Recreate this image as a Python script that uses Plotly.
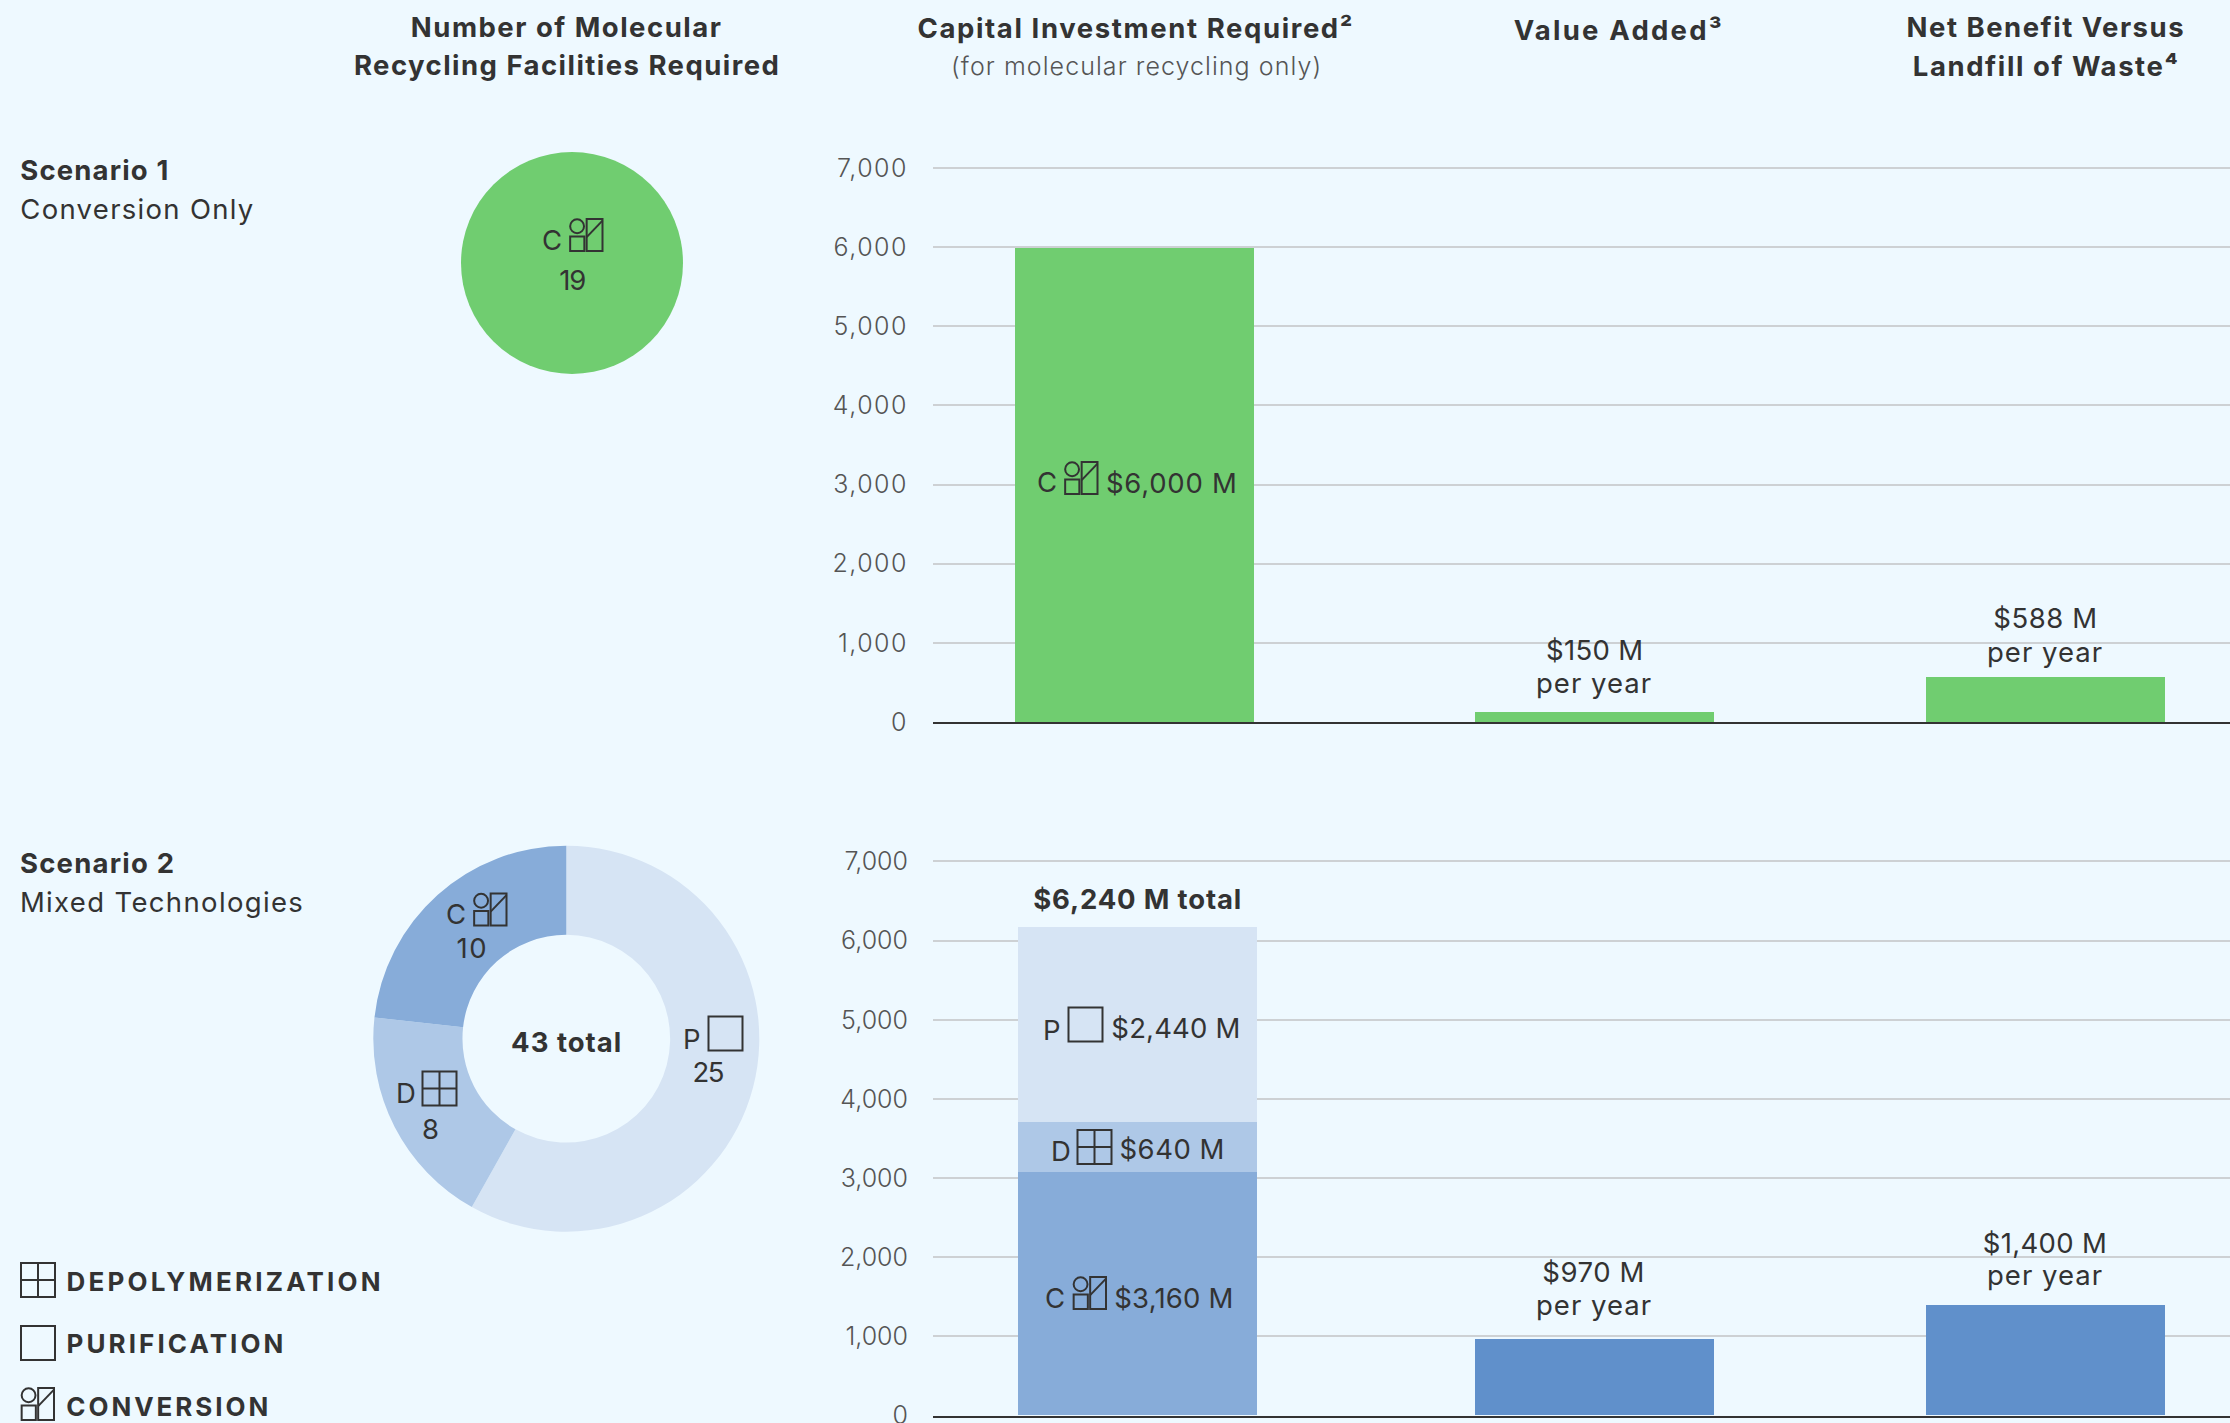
import json
import plotly.graph_objects as go

# ---------- data ----------
METRICS = ["Capital Investment Required", "Value Added", "Net Benefit Versus Landfill of Waste"]
TICKS = [0, 1000, 2000, 3000, 4000, 5000, 6000, 7000]

# Bar heights as drawn in the picture, read against the gridlines.
S1_VALUES = [6000, 130, 575]
S2_CONVERSION = [3080]
S2_DEPOLY = [623]
S2_PURIFICATION = [2467]
S2_OTHER = [970, 1390]

FAC_S1_LABELS = ["Conversion"]
FAC_S1 = [19]
FAC_S2_LABELS = ["Purification", "Depolymerization", "Conversion"]
FAC_S2 = [25, 8, 10]

# ---------- style ----------
W, H = 2230, 1423
BG = "#eef9ff"
INK = "#333333"
GREEN = "#70cd70"
LIGHT = "#d6e4f4"
MID = "#aec8e7"
DARK = "#87acd9"
SOLID = "#6090cb"
GRID = "#cdd1d4"
FONT = "Inter"
SIZE = 27.5
BOLD = 27.5


def px(x):
    return x / W


def py(y):
    return 1 - y / H


fig = go.Figure()

# axis geometry
X_L = 933
CAT0, STEP = 1139.0, 455.5
BAR_W = 239 / STEP
xrange_ = [(X_L - CAT0) / STEP, (W - CAT0) / STEP]


def offsets(centers):
    return [-BAR_W / 2 + (c - (CAT0 + i * STEP)) / STEP for i, c in centers]


S1_CENTERS = [(0, 1134), (1, 1594.5), (2, 2045.5)]
S2_CENTERS = [(0, 1137.5), (1, 1594.5), (2, 2045.5)]

fig.add_trace(go.Bar(x=METRICS, y=S1_VALUES, width=BAR_W, offset=offsets(S1_CENTERS),
                     marker=dict(color=GREEN, line_width=0), xaxis="x", yaxis="y"))
for vals, col in [(S2_CONVERSION, DARK), (S2_DEPOLY, MID), (S2_PURIFICATION, LIGHT)]:
    fig.add_trace(go.Bar(x=METRICS[:1], y=vals, width=BAR_W, offset=offsets(S2_CENTERS[:1]),
                         marker=dict(color=col, line_width=0), xaxis="x2", yaxis="y2"))
fig.add_trace(go.Bar(x=METRICS[1:], y=S2_OTHER, width=BAR_W, offset=offsets(S2_CENTERS[1:]),
                     marker=dict(color=SOLID, line_width=0), xaxis="x2", yaxis="y2"))

fig.add_trace(go.Pie(labels=FAC_S1_LABELS, values=FAC_S1, sort=False, direction="clockwise",
                     marker=dict(colors=[GREEN], line_width=0), textinfo="none",
                     domain=dict(x=[px(461), px(683)], y=[py(374), py(152)])))
fig.add_trace(go.Pie(labels=FAC_S2_LABELS, values=FAC_S2, sort=False, direction="clockwise",
                     hole=0.538, marker=dict(colors=[LIGHT, MID, DARK], line_width=0),
                     textinfo="none",
                     domain=dict(x=[px(373.3), px(759.3)], y=[py(1231.7), py(845.7)])))

RANGE_TOP = 7030  # a little headroom so the 7,000 gridline is kept


def yaxis(bottom, top, anchor):
    unit = (bottom - top) / 7000
    return dict(domain=[py(bottom), py(bottom - RANGE_TOP * unit)], range=[0, RANGE_TOP],
                tickvals=TICKS, tickformat=",d", ticklabeloverflow="allow",
                showgrid=True, gridcolor=GRID, gridwidth=2, zeroline=False, showline=False,
                ticks="", ticklabelstandoff=24, anchor=anchor,
                tickfont=dict(family=FONT, size=25, color="#555555", weight=300))


def xaxis(anchor):
    return dict(domain=[px(X_L), 1], type="category", categoryorder="array", categoryarray=METRICS,
                range=xrange_, showticklabels=False, ticks="", showgrid=False, zeroline=False,
                showline=True, linecolor=INK, linewidth=2, anchor=anchor)


# ---------- text ----------
annotations = []
WIDTHS = {}


def text(s, x, y, size=SIZE, weight=400, color=INK, w=None, left=False):
    # left=True: x is the text's left edge and w its full width
    annotations.append(dict(text=s, x=px(x + w / 2 if left else x), y=py(y),
                            xref="paper", yref="paper", showarrow=False,
                            xanchor="center", yanchor="middle",
                            font=dict(family=FONT, size=size, color=color, weight=weight)))
    if w:
        WIDTHS[s] = w


text("Number of Molecular", 566, 27, BOLD, 700, w=310)
text("Recycling Facilities Required", 566.5, 65, BOLD, 700, w=425)
text("Capital Investment Required²", 1136, 27.5, BOLD, 700, w=435)
text("(for molecular recycling only)", 1136, 66.5, 25, 300, "#555555", w=370)
text("Value Added³", 1618.5, 30, BOLD, 700, w=208)
text("Net Benefit Versus", 2045.5, 27, BOLD, 700, w=277)
text("Landfill of Waste⁴", 2045.5, 66.5, BOLD, 700, w=265)

text("Scenario 1", 20.5, 170, BOLD, 700, w=148, left=True)
text("Conversion Only", 20.5, 209, SIZE, 400, w=233, left=True)
text("Scenario 2", 20.5, 863, BOLD, 700, w=154, left=True)
text("Mixed Technologies", 20.5, 902, SIZE, 400, w=283, left=True)

text("DEPOLYMERIZATION", 68, 1281.5, 26, 700, w=314, left=True)
text("PURIFICATION", 68, 1343.5, 26, 700, w=217, left=True)
text("CONVERSION", 68, 1406.5, 26, 700, w=202, left=True)

# pie labels
text("C", 552, 240)
text("19", 571.7, 279.5, w=27)
text("P", 691.7, 1038.5)
text("25", 708.3, 1072, w=32)
text("D", 405.7, 1092.5)
text("8", 430, 1128.5)
text("C", 455.7, 914)
text("10", 472.3, 948, w=30)
text("43 total", 566, 1042, BOLD, 700, w=110)

# bar labels
text("C", 1047, 482)
text("$6,000 M", 1171.5, 483, w=131)
text("$150 M", 1594, 650, w=97)
text("per year", 1594, 683, w=115)
text("$588 M", 2045, 618.5, w=104)
text("per year", 2045, 652, w=115)
text("$6,240 M total", 1137, 899, BOLD, 700, w=208)
text("P", 1051.5, 1029.5)
text("$2,440 M", 1175.5, 1028, w=129)
text("D", 1060.7, 1150.5)
text("$640 M", 1172, 1149, w=105)
text("C", 1055, 1297.5)
text("$3,160 M", 1174, 1298, w=119)
text("$970 M", 1593.5, 1272, w=102)
text("per year", 1594, 1305, w=115)
text("$1,400 M", 2045, 1243, w=124)
text("per year", 2045, 1275, w=115)

# ---------- icons ----------
shapes = []
ILINE = dict(color=INK, width=2)


def rect(x0, y0, x1, y1):
    shapes.append(dict(type="rect", xref="paper", yref="paper", x0=px(x0), x1=px(x1),
                       y0=py(y1), y1=py(y0), line=ILINE, fillcolor="rgba(0,0,0,0)"))


def seg(x0, y0, x1, y1):
    shapes.append(dict(type="line", xref="paper", yref="paper", x0=px(x0), x1=px(x1),
                       y0=py(y0), y1=py(y1), line=ILINE))


def circ(cx, cy, r):
    shapes.append(dict(type="circle", xref="paper", yref="paper", x0=px(cx - r), x1=px(cx + r),
                       y0=py(cy + r), y1=py(cy - r), line=ILINE, fillcolor="rgba(0,0,0,0)"))


def icon_p(x, y, s=34):
    rect(x, y, x + s, y + s)


def icon_d(x, y, s=34):
    rect(x, y, x + s, y + s)
    seg(x + s / 2, y, x + s / 2, y + s)
    seg(x, y + s / 2, x + s, y + s / 2)


def icon_c(x, y, s=33):
    circ(x + 0.23 * s, y + 0.22 * s, 0.21 * s)
    rect(x + 0.02 * s, y + 0.53 * s, x + 0.45 * s, y + 0.97 * s)
    rect(x + 0.52 * s, y, x + s, y + 0.97 * s)
    seg(x + 0.52 * s, y + 0.55 * s, x + s, y + 0.05 * s)


icon_d(21, 1263)
icon_p(21, 1326)
icon_c(21, 1388)
icon_c(569.5, 219)
icon_p(708.5, 1016.5)
icon_d(422.5, 1071.5)
icon_c(473.5, 893.5)
icon_c(1064.5, 462)
icon_p(1068.5, 1007.5)
icon_d(1077.5, 1130)
icon_c(1073, 1277)

fig.update_layout(
    width=W, height=H, margin=dict(l=0, r=0, t=0, b=0, pad=0, autoexpand=False),
    paper_bgcolor=BG, plot_bgcolor=BG, showlegend=False, barmode="stack", bargap=0,
    font=dict(family=FONT, color=INK),
    xaxis=xaxis("y"), yaxis=yaxis(722, 168, "x"),
    xaxis2=xaxis("y2"), yaxis2=yaxis(1415.5, 861.5, "x2"),
    annotations=annotations, shapes=shapes,
)

# The reference face is wider than the installed fonts: track each text out to its measured width.
POST = """
document.body.style.margin='0';document.body.style.overflow='hidden';
document.body.style.background='#eef9ff';
var widths=%s;
document.querySelectorAll('.annotation-text').forEach(function(t){
  var w=widths[t.textContent]; if(!w) return;
  var n=t.textContent.length; if(n<2) return;
  var sp=(w-t.getComputedTextLength())/(n-1);
  t.style.letterSpacing=sp+'px';
});
document.querySelectorAll('.ytick text').forEach(function(t){t.style.letterSpacing='1.5px';});
""" % json.dumps(WIDTHS)

fig.write_html("out.html", config={"displayModeBar": False}, post_script=POST)
